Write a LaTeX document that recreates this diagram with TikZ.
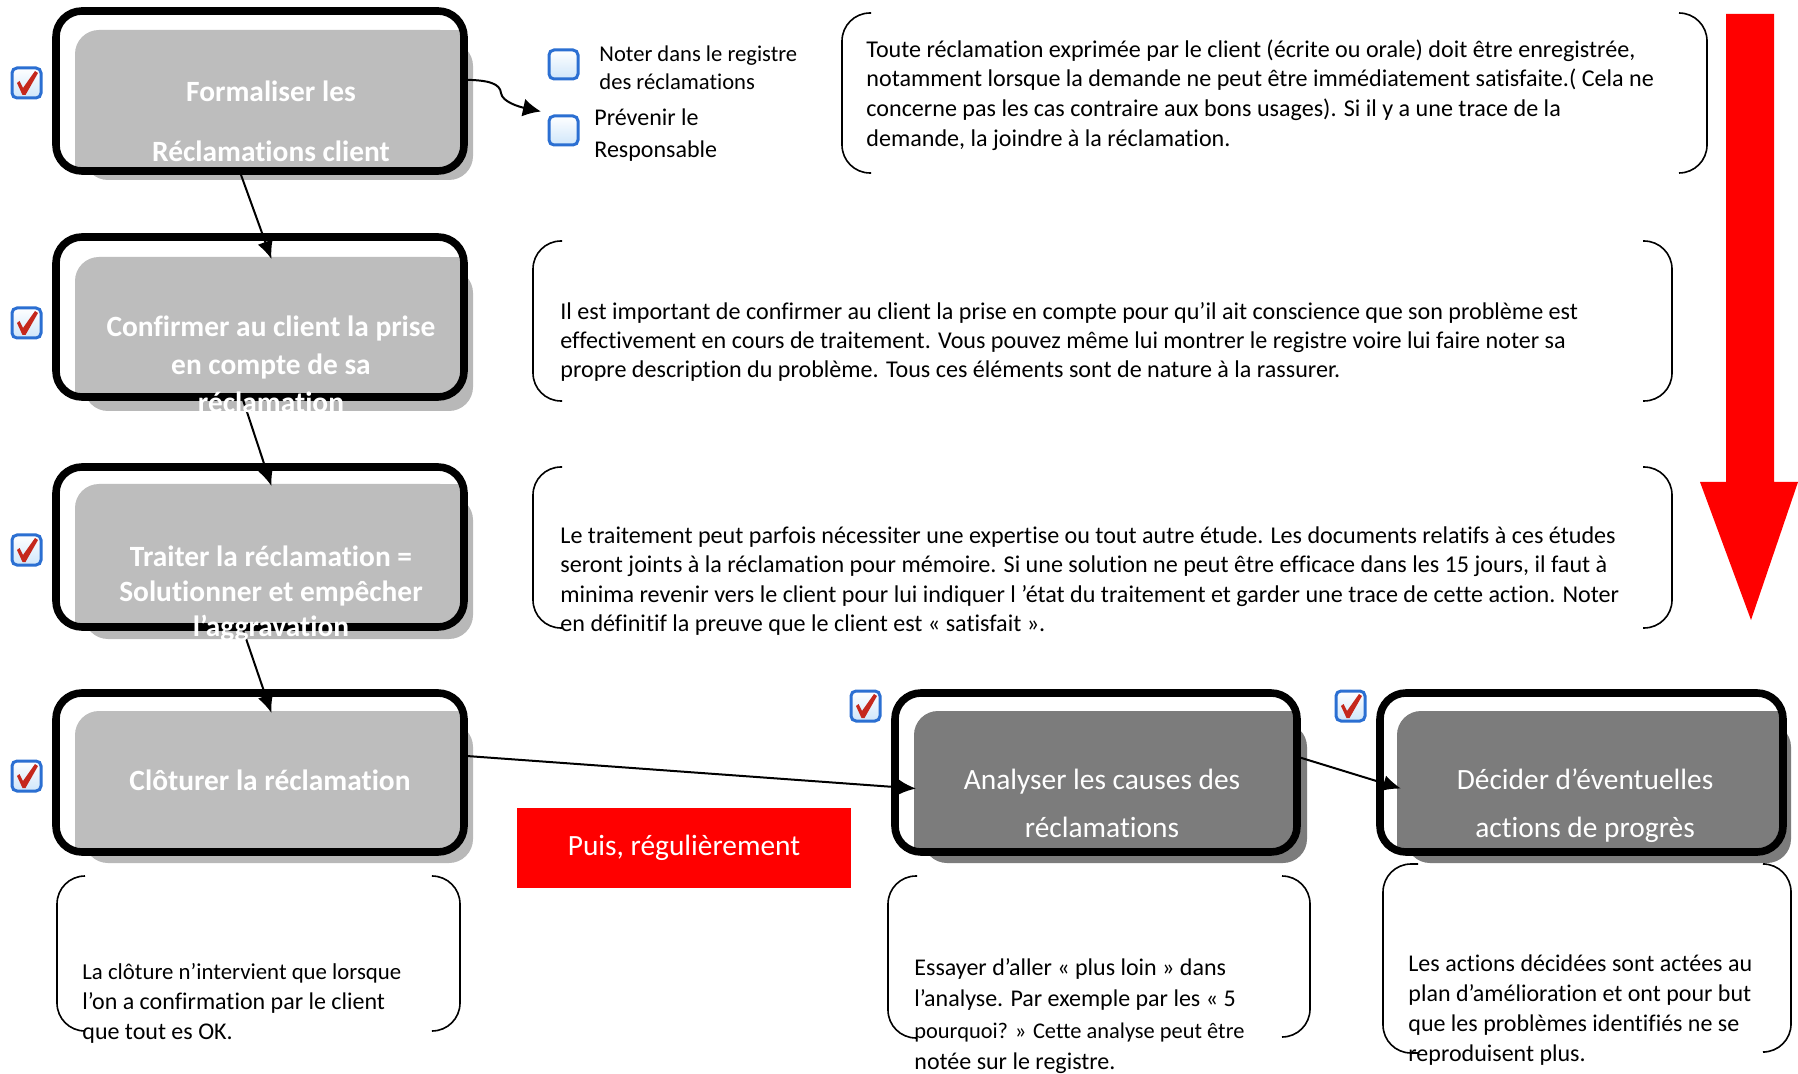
\documentclass[tikz,border=0pt]{standalone}
\usepackage{fontspec}
\setmainfont{Carlito}[Ligatures=NoCommon]
\usetikzlibrary{arrows.meta,calc,fit}
\definecolor{lightg}{HTML}{BDBDBD}
\definecolor{lightsh}{HTML}{B8B8B8}
\definecolor{darkg}{HTML}{7C7C7C}
\definecolor{cbblue}{HTML}{2B6FD2}
\definecolor{cbred}{HTML}{C5281C}
\definecolor{cbpale}{HTML}{CFE6FA}
\tikzset{
 x=0.5pt,y=-0.5pt,
 outerbox/.style={draw=black,line width=3.8pt,rounded corners=13pt,inner sep=0pt,outer sep=0pt},
 grayfill/.style={fill=#1,rounded corners=12pt,inner sep=0pt,outer sep=0pt},
 lighttxt/.style={text=white,align=center,inner sep=0pt,font=\fontsize{14.7}{19}\selectfont\bfseries},
 darktxt/.style={text=white,align=center,inner sep=0pt,font=\fontsize{14.7}{24}\selectfont},
 bodytxt/.style={anchor=west,align=left,inner sep=0pt,text=black},
 conn/.style={draw=black,line width=1pt,-{Latex[length=9pt,width=8pt]}},
 brk/.style={draw=black,line width=0.8pt,rounded corners=14pt},
 cbox/.style={draw=cbblue,line width=1.5pt,rounded corners=2.5pt,inner sep=0pt,outer sep=0pt,top color=white,bottom color=cbpale},
}
\newcommand\flowbox[9]{% id, x1,y1,x2,y2, gray left, gray top, shadow right, shadow bottom
 \fill[lightsh,rounded corners=12pt] (#6+9,#7+12) rectangle (#8,#9);
 \node[grayfill=lightg,fit={(#6,#7)(#4,#5)}] (g#1) {};
 \fill[lightg] (#6,#7+30) rectangle (#6+30,#5);
 \fill[lightg] (#4-30,#7) rectangle (#4-2,#7+30);
 \node[outerbox,fit={(#2,#3)(#4,#5)}] (b#1) {};
}
\newcommand\flowboxdark[9]{%
 \fill[darkg,rounded corners=12pt] (#6+9,#7+12) rectangle (#8,#9);
 \node[grayfill=darkg,fit={(#6,#7)(#4,#5)}] (g#1) {};
 \fill[darkg] (#6,#7+30) rectangle (#6+30,#5);
 \fill[darkg] (#4-30,#7) rectangle (#4-2,#7+30);
 \node[outerbox,fit={(#2,#3)(#4,#5)}] (b#1) {};
}
\newcommand\chk[3]{%
 \node[cbox,fit={(#2,#3)(#2+29,#3+30)}] (c#1) {};
 \fill[cbred,shift={(#2,#3)}] (5,15) -- (7.5,13) -- (11,20) -- (23,3) -- (26,5) -- (13.5,27) -- (10.5,27) -- cycle;
}
\newcommand\brackets[7]{% left x, left tip, right tip, right x, top, bottom-left, bottom-right
 \draw[brk] (#2,#5) -- (#1,#5) -- (#1,#6) -- (#2,#6);
 \draw[brk] (#3,#5) -- (#4,#5) -- (#4,#7) -- (#3,#7);
}
\begin{document}
\begin{tikzpicture}
\useasboundingbox[fill=white] (0,0) rectangle (1798,1074);

% red arrow
\fill[red] (1726,14) -- (1774,14) -- (1774,482) -- (1798,482) -- (1751,620) -- (1700,482) -- (1726,482) -- cycle;

% boxes
\flowbox{1}{56}{11}{464}{171}{75}{30}{473}{180}
\flowbox{2}{56}{237}{464}{397}{75}{257}{473}{411}
\flowbox{3}{56}{467}{464}{627}{75}{484}{473}{639}
\flowbox{4}{56}{693}{464}{852}{75}{711}{473}{863}
\flowboxdark{5}{895}{693}{1297}{852}{914}{711}{1307}{863}
\flowboxdark{6}{1380}{693}{1783}{852}{1397}{711}{1791}{863}

% brackets
\brackets{842}{871}{1679}{1707}{13}{173}{173}
\brackets{533}{562}{1643}{1672}{241}{401}{401}
\brackets{533}{562}{1643}{1672}{467}{628}{628}
\brackets{57}{85}{433}{460}{876}{1031}{1031}
\brackets{888}{917}{1282}{1310}{876}{1038}{1037}
\brackets{1383}{1418}{1765}{1791}{864}{1053}{1052}

% check boxes
\chk{1}{12}{68}
\chk{2}{12}{308}
\chk{3}{12}{535}
\chk{4}{12}{761}
\chk{5}{851}{691}
\chk{6}{1336}{691}
\node[cbox,fit={(549,50)(578,79)}] (u1) {};
\node[cbox,fit={(549,116)(578,145)}] (u2) {};

% red label
\node[fill=red,inner sep=0pt,outer sep=0pt,fit={(517,808)(851,888)}] (rbox) {};
\node[text=white,inner sep=0pt,font=\fontsize{14.7}{18}\selectfont] (rtxt) at (684,848) {Puis, régulièrement};

% connectors
\draw[conn] ($(b1.south west)!.45!(b1.south east)$) -- ($(g2.north west)!.505!(g2.north east)+(0,2)$);
\draw[conn] ($(b2.south west)!.456!(b2.south east)$) -- ($(g3.north west)!.505!(g3.north east)+(0,2)$);
\draw[conn] ($(b3.south west)!.456!(b3.south east)$) -- ($(g4.north west)!.505!(g4.north east)+(0,2)$);
\draw[conn] ($(b4.north east)!.395!(b4.south east)$) -- ($(g5.north west)!.55!(g5.south west)+(2,0)$);
\draw[conn] ($(b5.north east)!.40!(b5.south east)$) -- ($(g6.north west)!.55!(g6.south west)+(4,0)$);
\draw[draw=black,line width=1pt,-{Latex[length=9pt,width=9pt]}] ($(b1.north east)!.43!(b1.south east)$) .. controls (490,80) and (500,84) .. (501,93) .. controls (502,102) and (520,107) .. ($(u2.west)+(-8,-19)$);

% box texts
\node[lighttxt,font=\fontsize{14.7}{30}\selectfont\bfseries] (t1) at (271,121) {Formaliser les\\[0pt]Réclamations client};
\node[lighttxt] (t2) at (271,364) {Confirmer au client la prise\\en compte de sa\\réclamation};
\node[lighttxt,font=\fontsize{14.7}{17.5}\selectfont\bfseries] (t3) at (271,594) {Traiter la réclamation =\\Solutionner et empêcher\\l’aggravation};
\node[lighttxt] (t4) at (270,780) {Clôturer la réclamation};
\node[darktxt] (t5) at (1102,803) {Analyser les causes des\\réclamations};
\node[darktxt] (t6) at (1585,806) {Décider d’éventuelles\\actions de progrès};

% small labels
\node[bodytxt,font=\fontsize{11.3}{13.8}\selectfont] (n1) at (599,68) {Noter dans le registre\\des réclamations};
\node[bodytxt,font=\fontsize{12}{16}\selectfont] (n2) at (594,135) {Prévenir le\\Responsable};

% explanatory texts
\node[bodytxt,font=\fontsize{12.05}{14.8}\selectfont] (d1) at (866,95) {Toute réclamation exprimée par le client (écrite ou orale) doit être enregistrée,\\notamment lorsque la demande ne peut être immédiatement satisfaite.( Cela ne\\concerne pas les cas contraire aux bons usages). Si il y a une trace de la\\demande, la joindre à la réclamation.};
\node[bodytxt,font=\fontsize{12.05}{14.4}\selectfont] (d2) at (560,342) {Il est important de confirmer au client la prise en compte pour qu’il ait conscience que son problème est\\effectivement en cours de traitement. Vous pouvez même lui montrer le registre voire lui faire noter sa\\propre description du problème. Tous ces éléments sont de nature à la rassurer.};
\node[bodytxt,font=\fontsize{12.05}{14.8}\selectfont] (d3) at (560,581) {Le traitement peut parfois nécessiter une expertise ou tout autre étude. Les documents relatifs à ces études\\seront joints à la réclamation pour mémoire. Si une solution ne peut être efficace dans les 15 jours, il faut à\\minima revenir vers le client pour lui indiquer l ’état du traitement et garder une trace de cette action. Noter\\en définitif la preuve que le client est « satisfait ».};
\node[bodytxt,font=\fontsize{12}{15}\selectfont] (d4) at (82,1003) {{\fontsize{11.4}{15}\selectfont La clôture n’intervient que lorsque}\\l’on a confirmation par le client\\que tout es OK.};
\node[bodytxt,font=\fontsize{12}{15.8}\selectfont] (d5) at (914,1016) {Essayer d’aller « plus loin » dans\\l’analyse. Par exemple par les « 5\\{\fontsize{11.2}{15.8}\selectfont pourquoi? » Cette analyse peut être}\\notée sur le registre.};
\node[bodytxt,font=\fontsize{12}{15}\selectfont] (d6) at (1408,1010) {Les actions décidées sont actées au\\plan d’amélioration et ont pour but\\que les problèmes identifiés ne se\\reproduisent plus.};
\end{tikzpicture}
\end{document}
